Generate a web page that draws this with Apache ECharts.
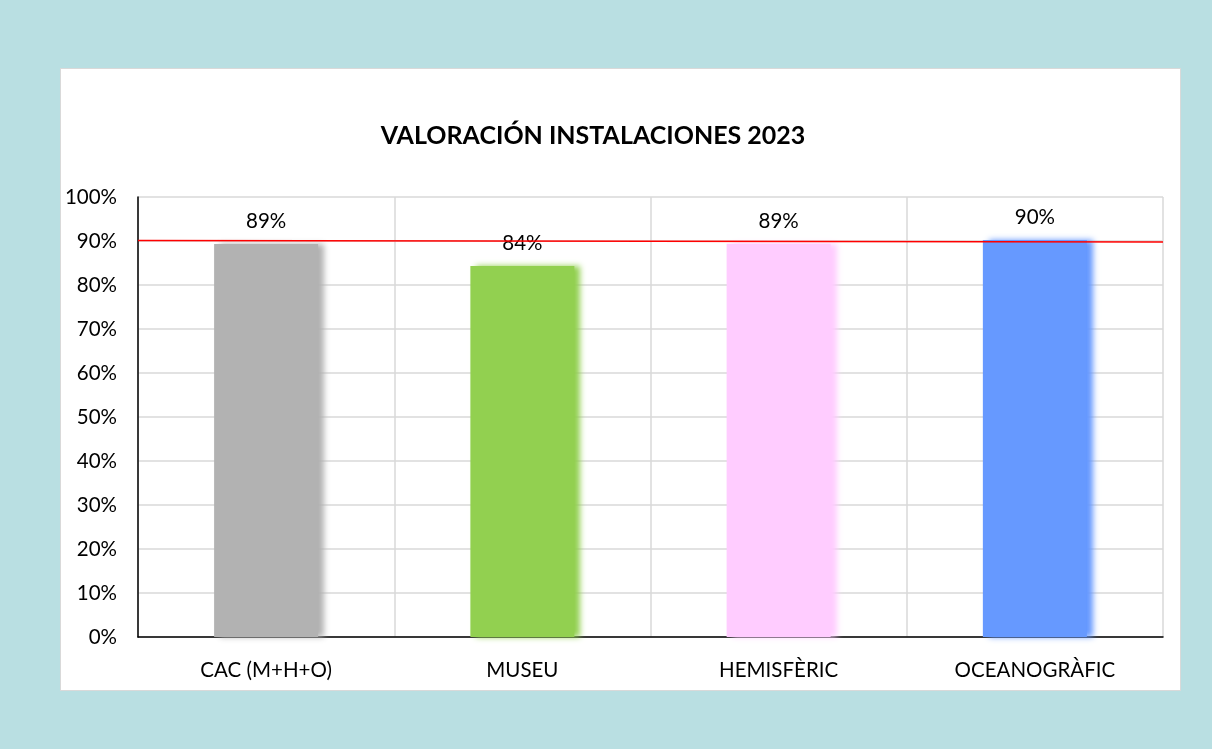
<!DOCTYPE html>
<html><head><meta charset="utf-8">
<script src="https://cdn.jsdelivr.net/npm/echarts@6/dist/echarts.min.js"></script>
<style>
html,body{margin:0;padding:0;width:1212px;height:749px;background:#b9dfe2;overflow:hidden;}
#panel{position:absolute;left:60px;top:68px;width:1119px;height:621px;background:#fff;border:1px solid #d9d9d9;}
#c{position:absolute;left:0;top:0;width:1212px;height:749px;}
</style></head>
<body><div id="panel"></div><div id="c"></div>
<script>
const title = 'VALORACIÓN INSTALACIONES 2023';
const categories = ['CAC (M+H+O)', 'MUSEU', 'HEMISFÈRIC', 'OCEANOGRÀFIC'];
const values = [0.893, 0.843, 0.894, 0.902];
const barColors = ['#b2b2b2', '#92d050', '#ffccff', '#6699ff'];
const targetLine = [0.901, 0.898];

const font = 'Lato, "Open Sans", sans-serif';
const chart = echarts.init(document.getElementById('c'), null, {renderer: 'canvas'});
chart.setOption({
  animation: false,
  title: {text: title, left: 588, top: 118, textAlign: 'center',
    textStyle: {fontFamily: font, fontSize: 25, fontWeight: 'bold', color: '#000'}},
  grid: {left: 138, right: 49, top: 197, bottom: 112},
  xAxis: [{
    type: 'category', data: categories,
    axisLine: {lineStyle: {color: '#000', width: 1.5}},
    axisTick: {show: false},
    axisLabel: {fontFamily: font, fontSize: 20.5, color: '#000', margin: 23},
    splitLine: {show: true, lineStyle: {color: '#d9d9d9', width: 1.5}}
  }, {
    type: 'category', data: ['a', 'b'], boundaryGap: false, show: false
  }],
  yAxis: {
    type: 'value', min: 0, max: 1, interval: 0.1,
    axisLine: {show: true, lineStyle: {color: '#000', width: 1.5}},
    axisTick: {show: false},
    axisLabel: {fontFamily: font, fontSize: 20.5, color: '#000', margin: 21,
      formatter: v => Math.round(v * 100) + '%'},
    splitLine: {lineStyle: {color: '#d9d9d9', width: 1.5}}
  },
  series: [{
    type: 'bar', barWidth: 104, xAxisIndex: 0,
    data: values.map((v, i) => ({value: v, itemStyle: {color: barColors[i],
      shadowColor: barColors[i], shadowBlur: 6, shadowOffsetX: 6}})),
    label: {show: true, position: 'top', distance: 12, fontFamily: font, fontSize: 20.5, color: '#000',
      formatter: p => Math.round(p.value * 100) + '%'}
  }, {
    type: 'line', xAxisIndex: 1, data: targetLine, symbol: 'none', z: 5,
    lineStyle: {color: '#ff0000', width: 1.5}
  }]
});
</script></body></html>
